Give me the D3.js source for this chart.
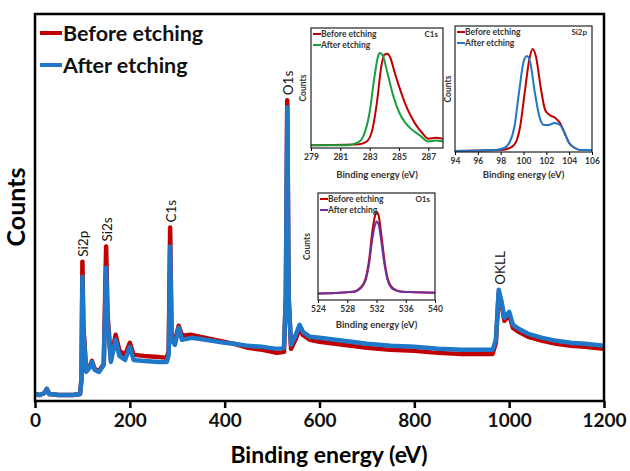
<!DOCTYPE html>
<html>
<head>
<meta charset="utf-8">
<script src="https://cdn.jsdelivr.net/npm/d3@7"></script>
<style>
  body { margin: 0; background: #fff; }
  svg { display: block; font-family: Lato, "Open Sans", sans-serif; }
</style>
</head>
<body>
<svg id="chart" width="630" height="471"></svg>
<script>
// survey spectrum, [binding energy (eV), counts (a.u.)]
var surveyBefore = [[0,7],[10,6],[20,8],[25,12],[30,7],[50,6],[80,6],[95,7],[98,22],[100,139],[102,75],[108,30],[115,34],[120,40],[126,32],[135,30],[145,37],[150,154],[153,86],[160,42],[170,66],[178,50],[190,46],[200,58],[208,46],[230,45],[260,44],[278,43],[282,50],[285,173],[288,66],[295,60],[303,75],[310,65],[330,66],[360,63],[400,59],[420,57],[450,53],[480,51],[510,48],[525,49],[529,105],[532,300],[535,104],[540,52],[550,62],[558,72],[565,66],[580,61],[600,59],[650,56],[700,53],[750,51],[800,50],[850,48],[900,47],[950,47],[965,47],[972,58],[978,108],[983,99],[990,80],[1000,86],[1008,73],[1020,69],[1040,64],[1070,60],[1100,57],[1130,55],[1160,54],[1200,52]];
var surveyAfter = [[0,7],[10,6],[20,8],[25,12],[30,7],[50,6],[80,6],[95,7],[98,21],[100,124],[102,71],[108,29],[115,33],[120,39],[126,31],[135,29],[145,36],[150,133],[153,81],[160,39],[170,61],[178,45],[190,41],[200,54],[208,41],[230,40],[260,39],[278,39],[282,46],[285,154],[288,61],[295,56],[303,73],[310,61],[330,63],[360,61],[400,58],[420,57],[450,55],[480,54],[510,52],[525,53],[529,101],[532,293],[535,101],[540,56],[550,66],[558,76],[565,69],[580,64],[600,63],[650,60],[700,57],[750,55],[800,54],[850,52],[900,51],[950,51],[965,51],[972,61],[978,111],[983,101],[990,83],[1000,89],[1008,76],[1020,72],[1040,67],[1070,63],[1100,60],[1130,58],[1160,57],[1200,55]];
var surveyTicks = [0, 200, 400, 600, 800, 1000, 1200];
// label, peak energy, peak top counts
var peakLabels = [["Si2p", 100, 139], ["Si2s", 150, 154], ["C1s", 285, 173], ["O1s", 532, 300], ["OKLL", 979, 111]];
var seriesNames = ["Before etching", "After etching"];

// high resolution insets, normalised counts
var c1sBefore = [[279,0.01],[282.3,0.02],[282.8,0.05],[283.2,0.19],[283.5,0.48],[283.8,0.87],[284.0,0.99],[284.2,1.0],[284.4,0.96],[284.7,0.8],[285.0,0.65],[285.4,0.47],[285.8,0.33],[286.2,0.22],[286.6,0.14],[287.0,0.08],[287.5,0.09],[288,0.08]];
var c1sAfter = [[279,0.01],[281.5,0.01],[282.2,0.04],[282.6,0.12],[283.0,0.37],[283.3,0.72],[283.6,0.99],[283.7,1.01],[283.9,0.98],[284.2,0.8],[284.6,0.55],[285.0,0.37],[285.4,0.26],[285.8,0.19],[286.4,0.12],[287.0,0.05],[287.5,0.06],[288,0.05]];
var c1sTicks = [279, 281, 283, 285, 287];

var si2pBefore = [[94,0],[98,0.01],[98.8,0.03],[99.3,0.08],[99.7,0.24],[100.1,0.58],[100.5,0.91],[100.8,1.02],[101.1,0.94],[101.5,0.64],[101.9,0.41],[102.3,0.36],[102.8,0.33],[103.2,0.28],[103.6,0.18],[104.0,0.08],[104.5,0.03],[105,0.01],[106,0.01]];
var si2pAfter = [[94,0],[97.5,0.01],[98.3,0.03],[98.8,0.09],[99.2,0.24],[99.6,0.58],[100.0,0.89],[100.3,0.95],[100.6,0.88],[101.0,0.58],[101.4,0.34],[101.8,0.26],[102.2,0.26],[102.7,0.28],[103.2,0.26],[103.6,0.18],[104.0,0.08],[104.5,0.03],[105,0.01],[106,0.01]];
var si2pTicks = [94, 96, 98, 100, 102, 104, 106];

var o1sBefore = [[524,0],[527,0.01],[528.8,0.02],[529.8,0.07],[530.5,0.18],[531.0,0.42],[531.4,0.74],[531.8,0.95],[532.0,1.0],[532.3,0.95],[532.7,0.69],[533.1,0.4],[533.6,0.16],[534.3,0.06],[535.5,0.02],[540,0.01]];
var o1sAfter = [[524,0],[527,0.01],[528.8,0.02],[529.8,0.06],[530.5,0.16],[531.0,0.37],[531.4,0.65],[531.8,0.84],[532.0,0.88],[532.3,0.84],[532.7,0.61],[533.1,0.35],[533.6,0.14],[534.3,0.05],[535.5,0.02],[540,0.01]];
var o1sTicks = [524, 528, 532, 536, 540];

var red = "#c00000";
var blue = "#1f77c8";

var svg = d3.select("#chart");

var margin = {left: 35, right: 604, top: 14, bottom: 401};
var x = d3.scaleLinear().domain([0, 1200]).range([margin.left, margin.right]);
var y = d3.scaleLinear().domain([0, 386]).range([margin.bottom, margin.top]);

var line = d3.line().x(function(d){ return x(d[0]); }).y(function(d){ return y(d[1]); });

svg.append("clipPath").attr("id", "main-clip").append("rect")
  .attr("x", margin.left).attr("y", margin.top)
  .attr("width", margin.right - margin.left).attr("height", margin.bottom - margin.top);

var plot = svg.append("g").attr("clip-path", "url(#main-clip)");
plot.append("path").datum(surveyBefore).attr("d", line)
  .attr("fill", "none").attr("stroke", red).attr("stroke-width", 4.5).attr("stroke-linejoin", "round");
plot.append("path").datum(surveyAfter).attr("d", line)
  .attr("fill", "none").attr("stroke", blue).attr("stroke-width", 4.5).attr("stroke-linejoin", "round");

// peak labels sit just above the top of each peak
peakLabels.forEach(function(p){
  svg.append("text")
    .attr("transform", "translate(" + (x(p[1]) + 6) + "," + (y(p[2]) - 5) + ") rotate(-90)")
    .attr("font-size", 13.5).attr("fill", "#111")
    .text(p[0]);
});

// frame
svg.append("rect")
  .attr("x", margin.left).attr("y", margin.top)
  .attr("width", margin.right - margin.left).attr("height", margin.bottom - margin.top)
  .attr("fill", "none").attr("stroke", "#000").attr("stroke-width", 2.5);

var xAxis = svg.append("g")
  .attr("transform", "translate(0," + margin.bottom + ")")
  .call(d3.axisBottom(x).tickValues(surveyTicks).tickSize(7).tickPadding(6).tickFormat(d3.format("d")));
xAxis.select(".domain").remove();
xAxis.selectAll("line").attr("stroke-width", 2.5);
xAxis.selectAll("text").attr("font-size", 19).attr("font-weight", "bold").attr("font-family", "Lato").attr("fill", "#111");

svg.append("text").attr("x", 329).attr("y", 463).attr("text-anchor", "middle")
  .attr("font-size", 23).attr("font-weight", "bold").text("Binding energy (eV)");
svg.append("text").attr("transform", "translate(25,207) rotate(-90)").attr("text-anchor", "middle")
  .attr("font-size", 25).attr("font-weight", "bold").text("Counts");

// legend
[red, blue].forEach(function(c, i){
  var ly = 33 + i * 32;
  svg.append("line").attr("x1", 40).attr("x2", 62).attr("y1", ly).attr("y2", ly)
    .attr("stroke", c).attr("stroke-width", 4);
  svg.append("text").attr("x", 63).attr("y", ly + 8).attr("font-size", 21.5).attr("font-weight", "bold")
    .attr("fill", "#111").text(seriesNames[i]);
});

function drawInset(cfg) {
  var g = svg.append("g");
  var ix = d3.scaleLinear().domain(cfg.xDomain).range([cfg.left, cfg.right]);
  var iy = d3.scaleLinear().domain(cfg.yDomain).range([cfg.bottom, cfg.top]);
  var il = d3.line().curve(d3.curveMonotoneX).x(function(d){ return ix(d[0]); }).y(function(d){ return iy(d[1]); });

  g.append("rect").attr("x", cfg.left).attr("y", cfg.top)
    .attr("width", cfg.right - cfg.left).attr("height", cfg.bottom - cfg.top)
    .attr("fill", "#fff").attr("stroke", "none");

  cfg.series.forEach(function(s){
    g.append("path").datum(s.data).attr("d", il)
      .attr("fill", "none").attr("stroke", s.color).attr("stroke-width", 2);
  });

  g.append("rect").attr("x", cfg.left).attr("y", cfg.top)
    .attr("width", cfg.right - cfg.left).attr("height", cfg.bottom - cfg.top)
    .attr("fill", "none").attr("stroke", "#222").attr("stroke-width", 1.2);

  var ax = g.append("g").attr("transform", "translate(0," + cfg.bottom + ")")
    .call(d3.axisBottom(ix).tickValues(cfg.ticks).tickSize(3).tickPadding(3).tickFormat(d3.format("d")));
  ax.select(".domain").remove();
  ax.selectAll("text").attr("font-size", 8.5).attr("font-family", "Lato").attr("font-weight", "bold").attr("fill", "#333");

  g.append("text").attr("x", (cfg.left + cfg.right) / 2).attr("y", cfg.titleY).attr("text-anchor", "middle")
    .attr("font-size", 9.5).attr("font-weight", "bold").attr("fill", "#333").text("Binding energy (eV)");
  g.append("text").attr("transform", "translate(" + cfg.countsX + "," + ((cfg.top + cfg.bottom) / 2) + ") rotate(-90)")
    .attr("text-anchor", "middle").attr("font-size", 8.5).attr("font-weight", "bold").attr("fill", "#333").text("Counts");

  cfg.series.forEach(function(s, i){
    var ly = cfg.top + 6 + i * 11;
    g.append("line").attr("x1", cfg.left + 2).attr("x2", cfg.left + 10).attr("y1", ly).attr("y2", ly)
      .attr("stroke", s.color).attr("stroke-width", 2);
    g.append("text").attr("x", cfg.left + 10).attr("y", ly + 3).attr("font-size", 8.5).attr("font-weight", "bold")
      .attr("fill", "#333").text(seriesNames[i]);
  });
  g.append("text").attr("x", cfg.right - 5).attr("y", cfg.top + 9).attr("text-anchor", "end")
    .attr("font-size", 8).attr("font-weight", "bold").attr("fill", "#333").text(cfg.label);
}

drawInset({left: 311, right: 443, top: 28, bottom: 148, xDomain: [279, 288], yDomain: [-0.02, 1.28],
  ticks: c1sTicks, titleY: 178, countsX: 306, label: "C1s",
  series: [{data: c1sBefore, color: red}, {data: c1sAfter, color: "#1a9e3f"}]});
drawInset({left: 455, right: 592, top: 26, bottom: 152, xDomain: [94, 106], yDomain: [-0.01, 1.25],
  ticks: si2pTicks, titleY: 178, countsX: 451, label: "Si2p",
  series: [{data: si2pBefore, color: red}, {data: si2pAfter, color: blue}]});
drawInset({left: 318, right: 435, top: 193, bottom: 300, xDomain: [524, 540], yDomain: [-0.08, 1.23],
  ticks: o1sTicks, titleY: 328, countsX: 310, label: "O1s",
  series: [{data: o1sBefore, color: red}, {data: o1sAfter, color: "#7030a0"}]});
</script>
</body>
</html>
